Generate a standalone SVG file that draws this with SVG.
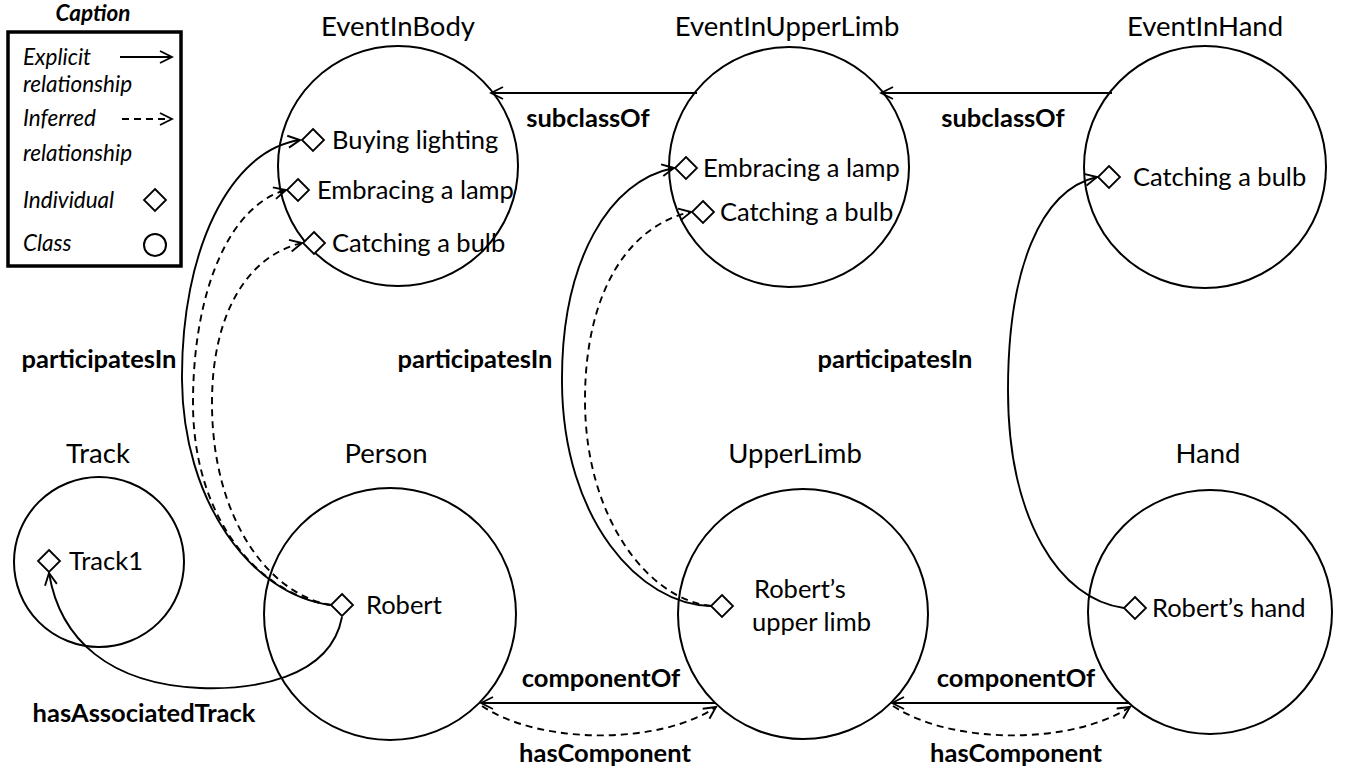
<svg xmlns="http://www.w3.org/2000/svg" width="1352" height="769" viewBox="0 0 1352 769">
<defs>
<style>
.cls{fill:none;stroke:#000;stroke-width:2}
.ind{fill:#fff;stroke:#000;stroke-width:1.8}
.title{font-family:Lato,"Open Sans",sans-serif;font-size:27.5px;fill:#000;text-anchor:middle}
.itxt{font-family:Lato,"Open Sans",sans-serif;font-size:25.5px;fill:#000}
.lbl{font-family:Lato,"Open Sans",sans-serif;font-size:25.5px;font-weight:bold;fill:#000;text-anchor:middle}
.cap{font-family:Lato,"Open Sans",sans-serif;font-size:22.5px;font-style:italic;fill:#000}
.sol{fill:none;stroke:#000;stroke-width:1.9;marker-end:url(#arr)}
.dsh{fill:none;stroke:#000;stroke-width:1.9;stroke-dasharray:7 5;marker-end:url(#arr)}
</style>
<marker id="arr" markerUnits="userSpaceOnUse" markerWidth="16" markerHeight="16" viewBox="0 0 16 16" refX="14" refY="8" orient="auto">
<path d="M2,2 L14,8 L2,14" fill="none" stroke="#000" stroke-width="1.9" stroke-dasharray="none"/>
</marker>
<path id="dia" d="M0,-11 L11,0 L0,11 L-11,0 Z"/>
</defs>
<rect width="1352" height="769" fill="#fff"/>

<g id="caption">
<text x="93" y="21" class="cap" style="font-weight:bold" text-anchor="middle">Caption</text>
<rect x="8" y="32" width="173" height="234" fill="none" stroke="#000" stroke-width="3.5"/>
<text x="23" y="65" class="cap">Explicit</text>
<text x="23" y="92" class="cap">relationship</text>
<path d="M120,57 L172,57" class="sol"/>
<text x="23" y="126" class="cap">Inferred</text>
<text x="23" y="161" class="cap">relationship</text>
<path d="M122,119 L172,119" class="dsh"/>
<text x="23" y="208" class="cap">Individual</text>
<use href="#dia" x="155" y="200" class="ind"/>
<text x="23" y="251" class="cap">Class</text>
<circle cx="155" cy="245" r="11" class="cls" stroke-width="1.8"/>
</g>

<g id="EventInBody">
<circle cx="398" cy="166" r="120" class="cls"/>
<text x="398" y="36" class="title">EventInBody</text>
<use href="#dia" x="313" y="140" class="ind"/>
<text x="332" y="149" class="itxt">Buying lighting</text>
<use href="#dia" x="298" y="190" class="ind"/>
<text x="317" y="199" class="itxt">Embracing a lamp</text>
<use href="#dia" x="314" y="243" class="ind"/>
<text x="332" y="252" class="itxt">Catching a bulb</text>
</g>

<g id="EventInUpperLimb">
<circle cx="789" cy="167" r="120" class="cls"/>
<text x="787" y="36" class="title">EventInUpperLimb</text>
<use href="#dia" x="686" y="168" class="ind"/>
<text x="703" y="177" class="itxt">Embracing a lamp</text>
<use href="#dia" x="703" y="212" class="ind"/>
<text x="720" y="221" class="itxt">Catching a bulb</text>
</g>

<g id="EventInHand">
<circle cx="1205" cy="167" r="121" class="cls"/>
<text x="1205" y="36" class="title">EventInHand</text>
<use href="#dia" x="1109" y="177" class="ind"/>
<text x="1133" y="186" class="itxt">Catching a bulb</text>
</g>

<g id="Track">
<circle cx="99" cy="562" r="85" class="cls"/>
<text x="98" y="463" class="title">Track</text>
<use href="#dia" x="49" y="561" class="ind"/>
<text x="69" y="570" class="itxt">Track1</text>
</g>

<g id="Person">
<circle cx="390" cy="614" r="126" class="cls"/>
<text x="386" y="463" class="title">Person</text>
<use href="#dia" x="342" y="605" class="ind"/>
<text x="366" y="614" class="itxt">Robert</text>
</g>

<g id="UpperLimb">
<circle cx="803" cy="614" r="125" class="cls"/>
<text x="795" y="463" class="title">UpperLimb</text>
<use href="#dia" x="722" y="606" class="ind"/>
<text x="754" y="598" class="itxt">Robert’s</text>
<text x="752" y="631" class="itxt">upper limb</text>
</g>

<g id="Hand">
<circle cx="1210" cy="612" r="122" class="cls"/>
<text x="1208" y="463" class="title">Hand</text>
<use href="#dia" x="1135" y="608" class="ind"/>
<text x="1152" y="617" class="itxt">Robert’s hand</text>
</g>

<g id="connectors">
<path d="M697,93 L491,93" class="sol"/>
<path d="M1112,93 L881,93" class="sol"/>
<path d="M331,605 C250,595 183,500 182,380 C181,250 230,150 300,140" class="sol"/>
<path d="M331,605 C260,595 193,520 193,403 C193,290 230,205 286,190" class="dsh"/>
<path d="M331,605 C270,595 212,520 212,403 C212,310 250,255 302,243" class="dsh"/>
<path d="M711,606 C640,605 563,520 562,383 C561,260 610,180 674,168" class="sol"/>
<path d="M711,606 C650,600 585,520 585,400 C585,290 630,225 691,212" class="dsh"/>
<path d="M1124,608 C1060,600 1008,520 1008,390 C1008,270 1040,190 1097,177" class="sol"/>
<path d="M342,617 C330,680 250,690 200,688 C110,684 60,640 49,573" class="sol"/>
<path d="M715,703 L481,703" class="sol"/>
<path d="M482,706 C540,745 660,745 716,707" class="dsh"/>
<path d="M1129,703 L892,703" class="sol"/>
<path d="M893,706 C952,745 1072,745 1130,707" class="dsh"/>
<text x="588" y="127" class="lbl">subclassOf</text>
<text x="1003" y="127" class="lbl">subclassOf</text>
<text x="99" y="368" class="lbl">participatesIn</text>
<text x="475" y="368" class="lbl">participatesIn</text>
<text x="895" y="368" class="lbl">participatesIn</text>
<text x="144" y="722" class="lbl">hasAssociatedTrack</text>
<text x="601" y="687" class="lbl">componentOf</text>
<text x="1016" y="687" class="lbl">componentOf</text>
<text x="605" y="762" class="lbl">hasComponent</text>
<text x="1016" y="762" class="lbl">hasComponent</text>
</g>
</svg>
